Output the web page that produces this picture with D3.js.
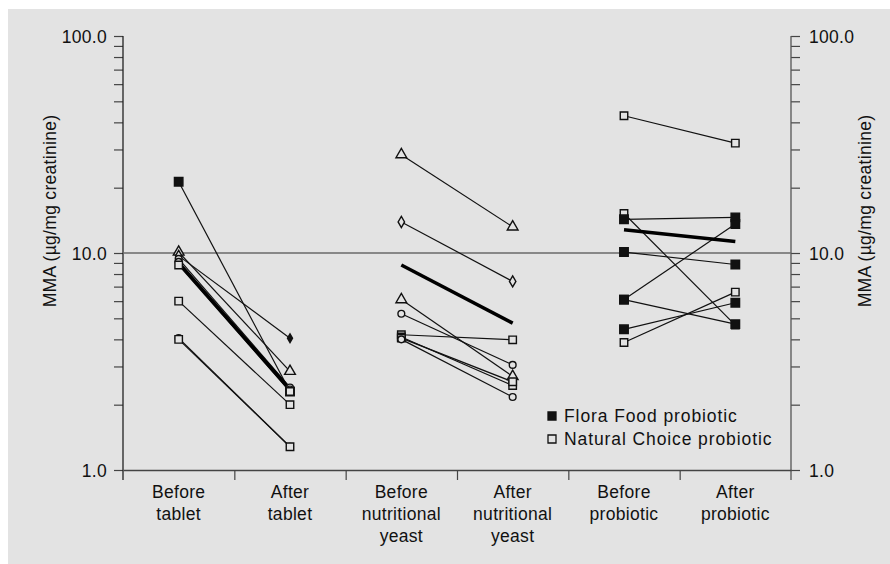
<!DOCTYPE html>
<html>
<head>
<meta charset="utf-8">
<script src="https://cdn.jsdelivr.net/npm/d3@7"></script>
<style>
  body { margin: 0; background: #fff; }
  text { font-family: "Liberation Sans", Arial, sans-serif; fill: #111; }
</style>
</head>
<body>
<svg id="chart" width="890" height="564"></svg>
<script>
// categories (two or three lines each)
const categories = [
  ["Before", "tablet"], ["After", "tablet"],
  ["Before", "nutritional", "yeast"], ["After", "nutritional", "yeast"],
  ["Before", "probiotic"], ["After", "probiotic"]
];

// tablet group, one entry per subject
const tabletBefore  = [21.3, 10.1, 9.7, 9.4, 9.1, 8.8, 6.0, 4.05, 4.0];
const tabletAfter   = [2.3, 2.85, 4.05, 2.4, 2.35, 2.3, 2.0, 1.28, 1.28];
const tabletMarkers = ["filled", "triangle", "diamond", "circle", "circle", "square", "square", "circle", "square"];
const tabletMean    = [9.0, 2.35];

// nutritional yeast group
const yeastBefore  = [28.4, 13.9, 6.1, 5.25, 4.2, 4.1, 4.05, 4.0];
const yeastAfter   = [13.2, 7.4, 2.7, 3.05, 3.98, 2.45, 2.55, 2.17];
const yeastMarkers = ["triangle", "diamond", "triangle", "circle", "square", "square", "square", "circle"];
const yeastMean    = [8.8, 4.75];

// probiotic group
const probioticBefore  = [42.9, 15.2, 14.3, 10.1, 6.1, 6.1, 4.45, 3.87];
const probioticAfter   = [32.1, 4.65, 14.6, 8.85, 13.6, 4.7, 5.9, 6.6];
const probioticMarkers = ["square", "square", "filled", "filled", "filled", "filled", "filled", "square"];
const probioticMean    = [12.8, 11.3];

const yTicks = [1, 2, 3, 4, 5, 6, 7, 8, 9, 10, 20, 30, 40, 50, 60, 70, 80, 90, 100];
const yLabels = [1, 10, 100];
const legendLabels = ["Flora Food probiotic", "Natural Choice probiotic"];
const yTitle = "MMA (\u00b5g/mg creatinine)";

const bg = "#e3e3e3";
const svg = d3.select("#chart");

svg.append("rect")
  .attr("x", 8).attr("y", 9)
  .attr("width", 882).attr("height", 555)
  .attr("fill", bg);

const pLeft = 123, pRight = 791, pTop = 36, pBottom = 470;

const y = d3.scaleLog().domain([1, 100]).range([pBottom, pTop]);
const xb = d3.scaleBand().domain(d3.range(categories.length)).range([pLeft, pRight]);
const xc = i => xb(i) + xb.bandwidth() / 2;

// y axes
const fmt = d => yLabels.includes(d) ? d3.format(".1f")(d) : "";
const yl = svg.append("g")
  .attr("transform", "translate(" + pLeft + ",0)")
  .call(d3.axisLeft(y).tickValues(yTicks).tickFormat(fmt).tickSize(9).tickPadding(7).tickSizeOuter(0));
const yr = svg.append("g")
  .attr("transform", "translate(" + pRight + ",0)")
  .call(d3.axisRight(y).tickValues(yTicks).tickFormat(fmt).tickSize(9).tickPadding(9).tickSizeOuter(0));
[yl, yr].forEach(g => {
  g.select(".domain").remove();
  g.selectAll(".tick line").attr("stroke", "#444").attr("stroke-width", 1.2);
  g.selectAll("text").style("font-size", "17.5px").style("letter-spacing", "0.3px")
    .attr("fill", "#111").attr("dy", "0.35em");
});
svg.append("line").attr("x1", pLeft).attr("x2", pLeft).attr("y1", pTop).attr("y2", pBottom + 10)
  .attr("stroke", "#222").attr("stroke-width", 1.3);
svg.append("line").attr("x1", pRight).attr("x2", pRight).attr("y1", pTop).attr("y2", pBottom + 10)
  .attr("stroke", "#555").attr("stroke-width", 1.3);

// x axis with divider ticks
const xd = d3.scaleLinear().domain([0, categories.length]).range([pLeft, pRight]);
const xa = svg.append("g")
  .attr("transform", "translate(0," + pBottom + ")")
  .call(d3.axisBottom(xd).tickValues(d3.range(1, categories.length)).tickFormat("").tickSize(10).tickSizeOuter(0));
xa.select(".domain").attr("stroke", "#444").attr("stroke-width", 1.5);
xa.selectAll(".tick line").attr("stroke", "#444").attr("stroke-width", 1.2);

// category labels
categories.forEach((lines, i) => {
  const t = svg.append("text")
    .attr("x", xc(i)).attr("y", 498)
    .attr("text-anchor", "middle")
    .style("font-size", "17.5px").style("letter-spacing", "0.3px");
  lines.forEach((s, k) => {
    t.append("tspan").attr("x", xc(i)).attr("dy", k === 0 ? 0 : 22).text(s);
  });
});

// axis titles
svg.append("text")
  .attr("transform", "translate(56,211) rotate(-90)")
  .attr("text-anchor", "middle")
  .style("font-size", "17.5px").style("letter-spacing", "0.3px")
  .text(yTitle);
svg.append("text")
  .attr("transform", "translate(871,211) rotate(-90)")
  .attr("text-anchor", "middle")
  .style("font-size", "17.5px").style("letter-spacing", "0.3px")
  .text(yTitle);

// reference line at 10
svg.append("line")
  .attr("x1", pLeft).attr("x2", pRight)
  .attr("y1", y(10)).attr("y2", y(10))
  .attr("stroke", "#6a6a6a").attr("stroke-width", 1.6);

// build segments
const groups = [
  { b: tabletBefore, a: tabletAfter, m: tabletMarkers, mean: tabletMean },
  { b: yeastBefore, a: yeastAfter, m: yeastMarkers, mean: yeastMean },
  { b: probioticBefore, a: probioticAfter, m: probioticMarkers, mean: probioticMean }
];
const segs = [], points = [], means = [];
groups.forEach((g, gi) => {
  g.b.forEach((v, k) => {
    segs.push({ x0: 2 * gi, x1: 2 * gi + 1, v0: v, v1: g.a[k] });
    points.push({ c: 2 * gi, v: v, m: g.m[k] });
    points.push({ c: 2 * gi + 1, v: g.a[k], m: (gi === 0 && k === 2) ? "dot" : g.m[k] });
  });
  means.push({ x0: 2 * gi, x1: 2 * gi + 1, v0: g.mean[0], v1: g.mean[1] });
});

svg.selectAll(".seg").data(segs).enter().append("line")
  .attr("x1", d => xc(d.x0)).attr("x2", d => xc(d.x1))
  .attr("y1", d => y(d.v0)).attr("y2", d => y(d.v1))
  .attr("stroke", "#111").attr("stroke-width", 1.2);

svg.selectAll(".mean").data(means).enter().append("line")
  .attr("x1", d => xc(d.x0)).attr("x2", d => xc(d.x1))
  .attr("y1", d => y(d.v0)).attr("y2", d => y(d.v1))
  .attr("stroke", "#000").attr("stroke-width", 3.5);

const shape = {
  filled: [d3.symbolSquare, 72],
  square: [d3.symbolSquare, 56],
  circle: [d3.symbolCircle, 36],
  triangle: [d3.symbolTriangle, 50],
  diamond: [d3.symbolDiamond, 36],
  dot: [d3.symbolDiamond, 22]
};
svg.selectAll(".pt").data(points).enter().append("path")
  .attr("transform", d => "translate(" + xc(d.c) + "," + y(d.v) + ")")
  .attr("d", d => d3.symbol().type(shape[d.m][0]).size(shape[d.m][1])())
  .attr("fill", d => (d.m === "filled" || d.m === "dot") ? "#111" : bg)
  .attr("stroke", "#111").attr("stroke-width", 1.4);

// legend
const legend = svg.append("g");
legendLabels.forEach((s, i) => {
  legend.append("path")
    .attr("transform", "translate(552," + (416 + i * 23) + ")")
    .attr("d", d3.symbol().type(d3.symbolSquare).size(64)())
    .attr("fill", i === 0 ? "#111" : bg)
    .attr("stroke", "#111").attr("stroke-width", 1.3);
  legend.append("text")
    .attr("x", 564).attr("y", 416 + i * 23).attr("dy", "0.36em")
    .style("font-size", "17.5px").style("letter-spacing", "0.9px")
    .text(s);
});
</script>
</body>
</html>
